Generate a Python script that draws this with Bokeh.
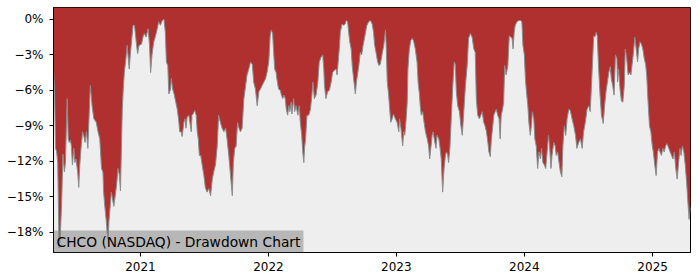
import pandas as pd
from bokeh.plotting import figure
from bokeh.models import Range1d, FixedTicker, Label, ColumnDataSource, DatetimeTickFormatter
from bokeh.embed import file_html
from bokeh.resources import INLINE

# ---------------- data ----------------
dates_2020 = [
    "2020-04-28", "2020-05-01", "2020-05-04", "2020-05-07", "2020-05-10", "2020-05-14", "2020-05-17",
    "2020-05-21", "2020-05-25", "2020-05-29", "2020-06-01", "2020-06-06", "2020-06-09", "2020-06-12",
    "2020-06-15", "2020-06-18", "2020-06-21", "2020-06-25", "2020-06-28", "2020-07-01", "2020-07-06",
    "2020-07-09", "2020-07-12", "2020-07-16", "2020-07-20", "2020-07-23", "2020-07-27", "2020-07-31",
    "2020-08-04", "2020-08-08", "2020-08-11", "2020-08-16", "2020-08-21", "2020-08-28", "2020-09-02",
    "2020-09-07", "2020-09-12", "2020-09-16", "2020-09-18", "2020-09-21", "2020-09-25", "2020-09-28",
    "2020-10-01", "2020-10-03", "2020-10-07", "2020-10-10", "2020-10-17", "2020-10-25", "2020-10-29",
    "2020-11-02", "2020-11-05", "2020-11-10", "2020-11-13", "2020-11-16", "2020-11-21", "2020-11-24",
    "2020-11-30", "2020-12-03", "2020-12-11", "2020-12-15", "2020-12-21", "2020-12-24", "2020-12-28",
]
dd_2020 = [
    -4.2, -6.1, -10.9, -11.2, -12.1, -19.3, -18.5,
    -15.7, -11.4, -12.9, -12.1, -6.7, -10.1, -10.4,
    -10.2, -10.7, -12.3, -10.9, -12.1, -11.8, -12.9,
    -14.2, -12.3, -10.7, -9.5, -9.8, -10.4, -9.5,
    -10.9, -7.8, -5.6, -7.3, -8.4, -8.7, -9.5,
    -10.1, -12.6, -12.9, -14.6, -15.7, -16.9, -18.0,
    -18.6, -17.1, -15.7, -14.6, -15.8, -14.0, -12.6,
    -13.2, -14.5, -7.8, -5.9, -4.5, -3.2, -2.2,
    -4.2, -3.0, -0.5, -0.5, -2.2, -2.9, -2.2,
]

dates_2021 = [
    "2021-01-04", "2021-01-09", "2021-01-12", "2021-01-17", "2021-01-23", "2021-01-27", "2021-01-30",
    "2021-02-03", "2021-02-08", "2021-02-13", "2021-02-18", "2021-02-22", "2021-02-27", "2021-03-04",
    "2021-03-09", "2021-03-13", "2021-03-16", "2021-03-20", "2021-03-23", "2021-03-28", "2021-03-30",
    "2021-04-03", "2021-04-07", "2021-04-11", "2021-04-16", "2021-04-20", "2021-04-23", "2021-04-27",
    "2021-04-30", "2021-05-05", "2021-05-08", "2021-05-11", "2021-05-14", "2021-05-19", "2021-05-22",
    "2021-05-26", "2021-05-28", "2021-05-31", "2021-06-05", "2021-06-09", "2021-06-12", "2021-06-15",
    "2021-06-18", "2021-06-22", "2021-06-26", "2021-07-01", "2021-07-05", "2021-07-10", "2021-07-15",
    "2021-07-20", "2021-07-25", "2021-07-29", "2021-08-03", "2021-08-08", "2021-08-12", "2021-08-17",
    "2021-08-22", "2021-08-27", "2021-09-01", "2021-09-05", "2021-09-10", "2021-09-15", "2021-09-20",
    "2021-09-23", "2021-09-27", "2021-10-01", "2021-10-05", "2021-10-09", "2021-10-13", "2021-10-18",
    "2021-10-23", "2021-10-28", "2021-11-01", "2021-11-06", "2021-11-11", "2021-11-16", "2021-11-20",
    "2021-11-25", "2021-11-30", "2021-12-05", "2021-12-09", "2021-12-14", "2021-12-19", "2021-12-24",
    "2021-12-28",
]
dd_2021 = [
    -2.1, -1.4, -1.2, -1.5, -0.8, -2.2, -4.5,
    -3.0, -1.9, -1.4, -0.8, -0.2, -0.5, -0.1,
    0.0, -1.1, -3.6, -3.9, -6.3, -5.9, -5.0,
    -5.9, -6.3, -6.9, -7.6, -8.5, -9.5, -9.5,
    -9.9, -8.7, -8.4, -9.2, -8.3, -8.1, -8.7,
    -9.5, -8.1, -8.0, -7.7, -8.1, -9.5, -10.1,
    -11.5, -11.5, -12.3, -13.2, -14.2, -14.6, -14.3,
    -14.9, -13.5, -12.9, -12.3, -10.7, -8.1, -8.7,
    -9.2, -9.5, -9.2, -10.1, -11.5, -13.2, -14.9,
    -12.1, -10.9, -10.7, -8.7, -9.2, -9.5, -9.2,
    -6.7, -5.6, -4.7, -4.2, -3.6, -3.8, -5.3,
    -5.9, -7.3, -6.1, -5.9, -5.6, -5.3, -5.0,
    -4.5,
]

dates_2022 = [
    "2022-01-02", "2022-01-06", "2022-01-09", "2022-01-13", "2022-01-16", "2022-01-19", "2022-01-23",
    "2022-01-25", "2022-01-30", "2022-02-04", "2022-02-07", "2022-02-11", "2022-02-14", "2022-02-18",
    "2022-02-21", "2022-02-25", "2022-02-28", "2022-03-03", "2022-03-07", "2022-03-09", "2022-03-14",
    "2022-03-17", "2022-03-21", "2022-03-26", "2022-03-30", "2022-04-02", "2022-04-06", "2022-04-09",
    "2022-04-12", "2022-04-14", "2022-04-17", "2022-04-21", "2022-04-26", "2022-05-01", "2022-05-05",
    "2022-05-08", "2022-05-12", "2022-05-17", "2022-05-22", "2022-05-26", "2022-05-31", "2022-06-05",
    "2022-06-08", "2022-06-10", "2022-06-14", "2022-06-19", "2022-06-24", "2022-06-29", "2022-07-03",
    "2022-07-08", "2022-07-13", "2022-07-16", "2022-07-19", "2022-07-23", "2022-07-25", "2022-07-30",
    "2022-08-04", "2022-08-08", "2022-08-11", "2022-08-15", "2022-08-18", "2022-08-21", "2022-08-25",
    "2022-08-28", "2022-09-01", "2022-09-06", "2022-09-09", "2022-09-13", "2022-09-16", "2022-09-20",
    "2022-09-24", "2022-09-28", "2022-10-02", "2022-10-05", "2022-10-09", "2022-10-14", "2022-10-19",
    "2022-10-24", "2022-10-28", "2022-10-31", "2022-11-04", "2022-11-08", "2022-11-12", "2022-11-16",
    "2022-11-21", "2022-11-26", "2022-12-01", "2022-12-03", "2022-12-06", "2022-12-10", "2022-12-13",
    "2022-12-16", "2022-12-20", "2022-12-24", "2022-12-29",
]
dd_2022 = [
    -3.6, -1.4, -0.9, -1.2, -2.8, -4.2, -4.5,
    -5.0, -5.9, -6.0, -6.4, -6.7, -6.4, -6.7,
    -7.6, -8.1, -7.3, -7.8, -7.0, -8.0, -6.7,
    -7.8, -7.3, -8.1, -7.3, -8.7, -9.8, -11.2,
    -12.1, -10.9, -10.1, -8.1, -8.1, -7.6, -6.4,
    -5.3, -6.7, -6.4, -5.3, -3.6, -3.2, -3.0,
    -4.2, -5.6, -6.7, -6.1, -6.0, -5.3, -4.5,
    -4.3, -4.2, -4.7, -3.6, -2.2, -1.1, -0.4,
    -0.5, -0.4, -0.1, -0.2, -1.1, -1.9, -2.5,
    -3.9, -5.0, -6.3, -5.3, -4.5, -3.9, -2.8,
    -3.0, -2.2, -1.6, -1.1, -0.5, -0.2, -0.1,
    -0.4, -1.1, -2.2, -2.8, -3.5, -3.9, -3.8,
    -3.0, -2.2, -0.9, -2.2, -5.3, -6.4, -7.6,
    -8.7, -8.4, -8.0, -8.4,
]

dates_2023 = [
    "2023-01-03", "2023-01-08", "2023-01-10", "2023-01-14", "2023-01-19", "2023-01-22", "2023-01-25",
    "2023-01-29", "2023-02-01", "2023-02-03", "2023-02-07", "2023-02-11", "2023-02-15", "2023-02-19",
    "2023-02-24", "2023-03-01", "2023-03-04", "2023-03-08", "2023-03-10", "2023-03-13", "2023-03-17",
    "2023-03-21", "2023-03-25", "2023-03-30", "2023-04-03", "2023-04-06", "2023-04-10", "2023-04-13",
    "2023-04-16", "2023-04-19", "2023-04-24", "2023-04-27", "2023-05-02", "2023-05-05", "2023-05-09",
    "2023-05-13", "2023-05-17", "2023-05-21", "2023-05-24", "2023-05-27", "2023-05-30", "2023-06-03",
    "2023-06-07", "2023-06-11", "2023-06-15", "2023-06-18", "2023-06-21", "2023-06-25", "2023-06-30",
    "2023-07-04", "2023-07-08", "2023-07-11", "2023-07-14", "2023-07-17", "2023-07-22", "2023-07-26",
    "2023-07-31", "2023-08-05", "2023-08-10", "2023-08-14", "2023-08-17", "2023-08-21", "2023-08-26",
    "2023-08-30", "2023-09-03", "2023-09-07", "2023-09-11", "2023-09-15", "2023-09-19", "2023-09-22",
    "2023-09-26", "2023-09-29", "2023-10-03", "2023-10-06", "2023-10-10", "2023-10-13", "2023-10-17",
    "2023-10-21", "2023-10-24", "2023-10-27", "2023-10-31", "2023-11-03", "2023-11-06", "2023-11-10",
    "2023-11-15", "2023-11-19", "2023-11-23", "2023-11-27", "2023-11-30", "2023-12-03", "2023-12-06",
    "2023-12-11", "2023-12-16", "2023-12-21", "2023-12-25", "2023-12-28",
]
dd_2023 = [
    -8.7, -9.5, -8.4, -9.2, -10.7, -9.5, -9.8,
    -8.4, -7.0, -4.2, -2.5, -1.8, -1.6, -1.8,
    -2.5, -3.6, -5.3, -6.4, -7.3, -8.1, -7.8,
    -8.7, -9.5, -10.1, -10.7, -11.8, -10.7, -9.8,
    -9.5, -10.1, -10.9, -9.8, -10.1, -10.7, -11.8,
    -14.6, -12.6, -11.5, -11.2, -11.4, -12.1, -10.7,
    -8.1, -5.6, -3.6, -3.8, -6.1, -7.3, -7.8,
    -9.0, -9.8, -8.4, -7.0, -5.6, -3.9, -1.6,
    -1.2, -1.5, -2.5, -2.8, -6.7, -8.1, -8.4,
    -8.1, -7.8, -8.7, -9.0, -9.5, -10.4, -11.2,
    -11.6, -10.1, -9.0, -8.1, -7.8, -7.6, -8.1,
    -8.4, -10.1, -8.1, -7.6, -7.0, -3.9, -4.7,
    -3.9, -1.4, -1.5, -1.6, -2.5, -1.1, -0.5,
    -0.2, -0.1, -0.1, -0.2, -2.2,
]

dates_2024 = [
    "2024-01-01", "2024-01-04", "2024-01-07", "2024-01-11", "2024-01-14", "2024-01-18", "2024-01-21",
    "2024-01-24", "2024-01-28", "2024-01-31", "2024-02-04", "2024-02-08", "2024-02-12", "2024-02-16",
    "2024-02-19", "2024-02-23", "2024-02-27", "2024-03-02", "2024-03-06", "2024-03-10", "2024-03-13",
    "2024-03-17", "2024-03-20", "2024-03-25", "2024-03-29", "2024-04-01", "2024-04-05", "2024-04-09",
    "2024-04-13", "2024-04-17", "2024-04-20", "2024-04-24", "2024-04-28", "2024-05-02", "2024-05-07",
    "2024-05-11", "2024-05-16", "2024-05-21", "2024-05-26", "2024-05-30", "2024-06-04", "2024-06-09",
    "2024-06-14", "2024-06-18", "2024-06-23", "2024-06-28", "2024-07-03", "2024-07-07", "2024-07-10",
    "2024-07-14", "2024-07-17", "2024-07-20", "2024-07-24", "2024-07-27", "2024-07-31", "2024-08-04",
    "2024-08-08", "2024-08-13", "2024-08-17", "2024-08-21", "2024-08-25", "2024-08-29", "2024-09-02",
    "2024-09-05", "2024-09-09", "2024-09-13", "2024-09-17", "2024-09-21", "2024-09-23", "2024-09-26",
    "2024-09-30", "2024-10-04", "2024-10-08", "2024-10-12", "2024-10-15", "2024-10-19", "2024-10-23",
    "2024-10-27", "2024-10-31", "2024-11-03", "2024-11-07", "2024-11-11", "2024-11-15", "2024-11-19",
    "2024-11-22", "2024-11-26", "2024-11-30", "2024-12-04", "2024-12-08", "2024-12-12", "2024-12-15",
    "2024-12-19", "2024-12-23", "2024-12-27", "2024-12-31",
]
dd_2024 = [
    -3.0, -5.0, -6.1, -7.3, -8.7, -9.8, -9.0,
    -7.8, -8.4, -10.1, -10.7, -12.6, -11.2, -11.8,
    -10.9, -12.1, -12.3, -12.6, -11.2, -9.8, -10.7,
    -12.6, -11.5, -10.4, -10.7, -11.5, -11.2, -12.1,
    -12.9, -13.3, -10.7, -9.0, -9.8, -8.4, -7.6,
    -7.7, -8.4, -9.0, -9.8, -10.9, -10.4, -10.1,
    -10.9, -9.5, -8.7, -7.6, -7.3, -7.8, -5.9,
    -3.3, -1.4, -1.5, -1.1, -1.4, -4.2, -6.4,
    -8.1, -8.8, -7.3, -6.1, -5.3, -4.5, -4.0,
    -5.0, -5.6, -6.4, -3.0, -3.3, -5.3, -4.2,
    -5.9, -6.9, -7.0, -5.6, -2.5, -3.3, -4.7,
    -4.5, -4.7, -3.9, -2.9, -1.5, -2.5, -3.6,
    -2.5, -1.9, -2.1, -2.5, -3.3, -3.8, -4.7,
    -7.0, -9.0, -9.5, -10.7,
]

dates_2025 = [
    "2025-01-03", "2025-01-07", "2025-01-11", "2025-01-15", "2025-01-19", "2025-01-22", "2025-01-26",
    "2025-01-30", "2025-02-03", "2025-02-07", "2025-02-11", "2025-02-16", "2025-02-20", "2025-02-24",
    "2025-02-28", "2025-03-04", "2025-03-08", "2025-03-12", "2025-03-16", "2025-03-20", "2025-03-23",
    "2025-03-27", "2025-03-31", "2025-04-04", "2025-04-08", "2025-04-11", "2025-04-15", "2025-04-19",
]
dd_2025 = [
    -11.2, -12.3, -13.2, -11.2, -10.9, -11.2, -11.5,
    -10.9, -11.2, -10.7, -10.5, -10.9, -11.2, -11.5,
    -11.8, -11.2, -12.6, -13.5, -12.1, -10.9, -11.5,
    -10.7, -11.2, -12.3, -13.8, -15.2, -16.9, -15.9,
]

ytick_values = [0, -3, -6, -9, -12, -15, -18]
ytick_labels = ["0%", "\u22123%", "\u22126%", "\u22129%", "\u221212%", "\u221215%", "\u221218%"]
xtick_years = ["2021-01-01", "2022-01-01", "2023-01-01", "2024-01-01", "2025-01-01"]
y_bottom, y_top = -19.7, 1.0
title_text = "CHCO (NASDAQ) - Drawdown Chart"

# ---------------- build ----------------
all_dates = pd.to_datetime(dates_2020 + dates_2021 + dates_2022 + dates_2023 + dates_2024 + dates_2025)
all_dd = dd_2020 + dd_2021 + dd_2022 + dd_2023 + dd_2024 + dd_2025
src = ColumnDataSource(dict(date=all_dates, dd=all_dd))

p = figure(width=700, height=280, x_axis_type="datetime",
           x_range=Range1d(all_dates[0], all_dates[-1]),
           y_range=Range1d(y_bottom, y_top),
           output_backend="svg", toolbar_location=None,
           min_border_left=53, min_border_right=10, min_border_top=7, min_border_bottom=28)

p.background_fill_color = "#eeeeee"
p.border_fill_color = "white"
p.outline_line_color = "black"
p.outline_line_width = 1
p.grid.visible = False

p.varea(x="date", y1="dd", y2=y_top, source=src, fill_color="#b03030", fill_alpha=1.0)
p.line(x="date", y="dd", source=src, line_color="#8c8c8c", line_width=1)

xt = [pd.Timestamp(d).value / 1e6 for d in xtick_years]
p.xaxis.ticker = FixedTicker(ticks=xt)
p.xaxis.formatter = DatetimeTickFormatter(years="%Y", months="%Y", days="%Y", hours="%Y",
                                          context=None)
p.yaxis.ticker = FixedTicker(ticks=ytick_values)
p.yaxis.major_label_overrides = {v: l for v, l in zip(ytick_values, ytick_labels)}

for ax in (p.xaxis[0], p.yaxis[0]):
    ax.axis_line_color = "black"
    ax.major_tick_line_color = "black"
    ax.major_tick_out = 4
    ax.major_tick_in = 0
    ax.minor_tick_out = 0
    ax.minor_tick_in = 0
    ax.major_label_text_font = "DejaVu Sans"
    ax.major_label_text_font_size = "12px"
    ax.major_label_text_color = "black"
p.yaxis.major_label_standoff = 6
p.xaxis.major_label_standoff = 5

lbl = Label(x=0, y=0, x_units="screen", y_units="screen", text=title_text,
            text_font="DejaVu Sans", text_font_size="13.8px", text_color="black",
            text_baseline="bottom", text_align="left",
            background_fill_color="#808080", background_fill_alpha=0.5, padding=3)
p.add_layout(lbl)

open("out.html", "w").write(file_html(p, INLINE))
